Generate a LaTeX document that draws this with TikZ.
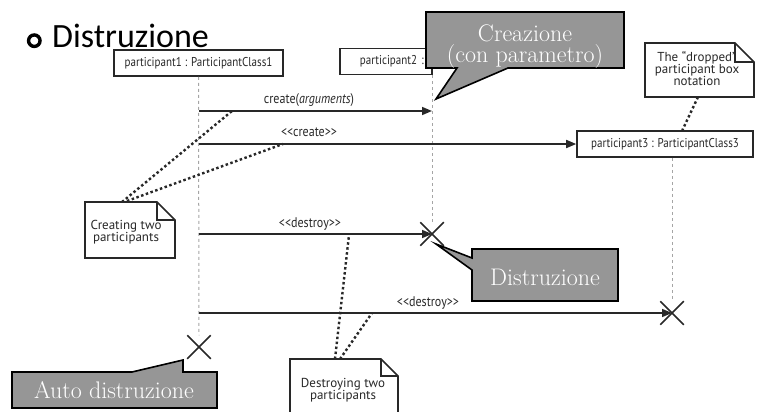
\documentclass[tikz,border=0pt]{standalone}
\usepackage{fontspec}
\newfontfamily\umlfont{PT Sans}
\newfontfamily\umlnarrow[FakeStretch=0.86]{PT Sans}
\newfontfamily\slidefont{Carlito}
\usetikzlibrary{arrows.meta,shapes.misc}
\definecolor{ink}{RGB}{40,40,40}
\definecolor{calloutgrey}{RGB}{150,150,150}
\definecolor{lifegrey}{RGB}{165,165,165}
\begin{document}
\begin{tikzpicture}[x=1pt,y=-1pt,
  participant/.style={draw=ink, line width=1.6pt, fill=white, inner sep=0pt,
    minimum height=26pt, font=\umlnarrow\fontsize{12.8}{14}\selectfont, text=ink},
  lifeline/.style={draw=lifegrey, line width=1pt, dash pattern=on 3pt off 3pt},
  msg/.style={draw=ink, line width=1.6pt, -{Triangle[length=10pt,width=8pt]}},
  msglabel/.style={font=\umlnarrow\fontsize{14}{16}\selectfont, text=ink, inner sep=0pt},
  destroyx/.style={cross out, draw=ink, line width=1.5pt, minimum size=22pt, inner sep=0pt},
  note/.style={font=\umlfont\fontsize{13}{12}\selectfont, text=ink, align=center,
    inner sep=0pt},
  notebox/.style={draw=ink, line width=1.6pt, fill=white, line join=miter},
  anchorline/.style={draw=ink, line width=2.4pt, dash pattern=on 2.5pt off 2.5pt},
  callout/.style={draw=black, line width=1.6pt, fill=calloutgrey, line join=miter},
  callouttext/.style={text=white, font=\fontsize{24}{20}\selectfont, inner sep=0pt, anchor=base},
]
\useasboundingbox (0,0) rectangle (763,412);
\clip (0,0) rectangle (763,412);

% slide heading
\node[anchor=base west, inner sep=0pt, font=\slidefont\fontsize{34}{40}\selectfont] (cut) at (374,-5) {p};
\node[circle, draw=black, line width=3.4pt, minimum size=11.5pt, inner sep=0pt] (bullet) at (34.3,40.7) {};
\node[anchor=base west, inner sep=0pt, font=\slidefont\fontsize{34}{40}\selectfont] (title) at (52,48) {Distruzione};

% participants
\node[participant, minimum width=169pt] (p1) at (198.5,63) {participant1 : ParticipantClass1};
\node[participant, minimum width=92pt, anchor=west, align=right, text width=76pt] (p2) at (339,61.5) {participant2 :};
\node[participant, minimum width=176pt] (p3) at (665,144) {participant3 : ParticipantClass3};

% destruction marks
\node[destroyx] (x1) at (199,347) {};
\node[destroyx] (x2) at (432,234) {};
\node[destroyx] (x3) at (672,313) {};

% lifelines
\draw[lifeline] (p1.south) -- (x1.north);
\draw[lifeline] (x2.north |- p2.south) -- (x2.north);
\draw[lifeline] (x3.north |- p3.south) -- (x3.north);

% messages
\coordinate (m1a) at (199,111);
\coordinate (m1b) at (432,111);
\coordinate (m2a) at (199,144);
\coordinate (m3a) at (199,234);
\coordinate (m4a) at (199,313);
\draw[msg] (m1a) -- (m1b);
\draw[msg] (m2a) -- (p3.west);
\draw[msg] (m3a) -- (x2.center);
\draw[msg] (m4a) -- (x3.center);
\node[msglabel] (l1) at (309,100) {create(\textit{arguments})};
\node[msglabel] (l2) at (309,132) {<<create>>};
\node[msglabel] (l3) at (310,224) {<<destroy>>};
\node[msglabel] (l4) at (428,303) {<<destroy>>};

% notes with folded corner
\path[notebox] (85,202) -- (157,202) -- (175,220) -- (175,258) -- (85,258) -- cycle;
\draw[ink, line width=1.6pt, line join=miter] (157,202) -- (157,220) -- (175,220);
\node[note] (noteA) at (126,232) {Creating two\\participants};

\path[notebox] (645,43) -- (735,43) -- (754,62) -- (754,97) -- (645,97) -- cycle;
\draw[ink, line width=1.6pt, line join=miter] (735,43) -- (735,62) -- (754,62);
\node[note] (noteB) at (697,69) {The “dropped”\\participant box\\notation};

\path[notebox] (290,359) -- (381,359) -- (398,376) -- (398,430) -- (290,430) -- cycle;
\draw[ink, line width=1.6pt, line join=miter] (381,359) -- (381,376) -- (398,376);
\node[note] (noteC) at (343,390) {Destroying two\\participants};

% note anchors
\coordinate (nA1) at (122,202);
\coordinate (nA2) at (127,201);
\coordinate (e1) at (232,111);
\coordinate (e2) at (283,144);
\draw[anchorline] (nA1) -- (e1);
\draw[anchorline] (nA2) -- (e2);
\coordinate (nB) at (698,97);
\coordinate (e3) at (682,131);
\draw[anchorline] (nB) -- (e3);
\coordinate (nC1) at (335,359);
\coordinate (nC2) at (340,359);
\coordinate (e4) at (349,235);
\coordinate (e5) at (372,313);
\draw[anchorline] (nC1) -- (e4);
\draw[anchorline] (nC2) -- (e5);

% callouts
\path[callout] (426,12) -- (624,12) -- (624,68) -- (508,68) -- (436,99) -- (457,68) -- (426,68) -- cycle;
\node[callouttext] (cre1) at (525,42) {Creazione};
\node[callouttext] (cre2) at (525,62.5) {(con parametro)};

\path[callout] (472,249) -- (618,249) -- (618,301) -- (472,301) -- (472,270) -- (436,244) -- (472,258) -- cycle;
\node[callouttext] (dis) at (545,285) {Distruzione};

\path[callout] (12,372) -- (132,372) -- (183,360) -- (183,372) -- (217,372) -- (217,408) -- (12,408) -- cycle;
\node[callouttext] (auto) at (114,398) {Auto distruzione};
\end{tikzpicture}
\end{document}
